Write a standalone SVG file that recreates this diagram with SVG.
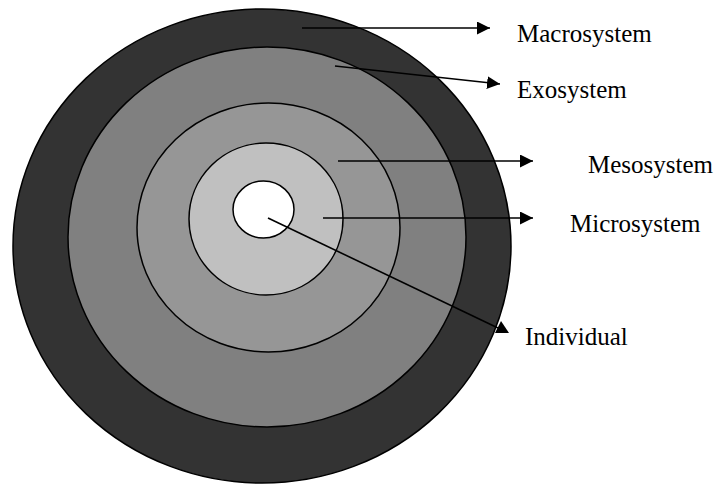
<svg xmlns="http://www.w3.org/2000/svg" width="720" height="484" viewBox="0 0 720 484">
  <style>
    .ring { stroke: #000; stroke-width: 1.5; }
    .conn { stroke: #000; stroke-width: 1.6; fill: none; marker-end: url(#arrow); }
  </style>
  <defs>
    <marker id="arrow" markerUnits="userSpaceOnUse" markerWidth="14" markerHeight="14" refX="13" refY="6.5" orient="auto">
      <path d="M0,0 L13,6.5 L0,13 Z" fill="#000"/>
    </marker>
  </defs>
  <rect width="720" height="484" fill="#fff"/>
  <g id="macrosystem">
    <ellipse class="ring" cx="262" cy="246" rx="249" ry="237" fill="#333333"/>
  </g>
  <g id="exosystem">
    <ellipse class="ring" cx="267" cy="237" rx="199" ry="190" fill="#808080"/>
  </g>
  <g id="mesosystem">
    <ellipse class="ring" cx="268.5" cy="227.5" rx="131.5" ry="124.5" fill="#969696"/>
  </g>
  <g id="microsystem">
    <ellipse class="ring" cx="266" cy="219" rx="77" ry="76" fill="#C0C0C0"/>
  </g>
  <g id="individual">
    <ellipse class="ring" cx="263.5" cy="209.5" rx="30.5" ry="28.5" fill="#ffffff"/>
  </g>
  <g id="connectors">
    <line class="conn" x1="302" y1="28" x2="490" y2="28"/>
    <line class="conn" x1="335" y1="66" x2="500" y2="84"/>
    <line class="conn" x1="338" y1="161" x2="533" y2="161"/>
    <line class="conn" x1="323" y1="218" x2="533" y2="218"/>
    <line x1="268" y1="218" x2="498" y2="328" stroke="#000" stroke-width="1.6"/>
    <polygon points="495,333 509,333 501,321" fill="#000"/>
  </g>
  <g id="labels" font-family="'Liberation Serif', 'Times New Roman', 'DejaVu Serif', serif" font-size="25" fill="#000">
    <text x="517" y="41.5">Macrosystem</text>
    <text x="517" y="98">Exosystem</text>
    <text x="588" y="173">Mesosystem</text>
    <text x="570" y="232">Microsystem</text>
    <text x="525" y="345">Individual</text>
  </g>
</svg>
